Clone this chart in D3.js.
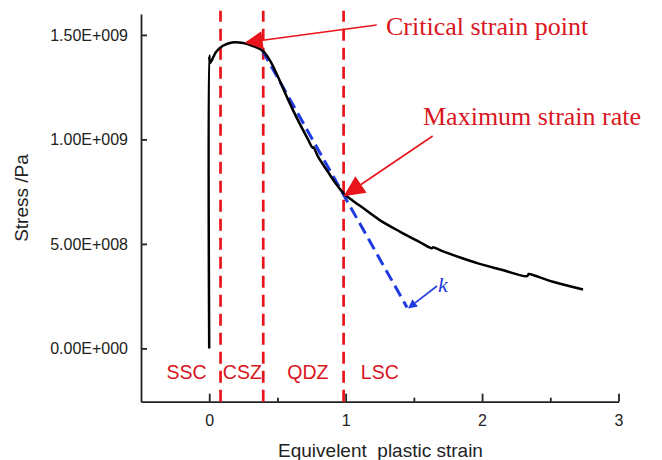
<!DOCTYPE html>
<html>
<head>
<meta charset="utf-8">
<script src="https://cdn.jsdelivr.net/npm/d3@7"></script>
<style>
  body { margin: 0; background: #fff; }
  svg { display: block; }
  .axis text { font-family: "Liberation Sans", Arial, sans-serif; font-size: 16px; fill: #222; }
  .axis path, .axis line { stroke: #222; stroke-width: 1.8; }
</style>
</head>
<body>
<div id="chart"></div>
<script>
// stress-strain curve (strain, stress in Pa)
const curveStrain = [0, 0, 0.006, 0.05, 0.10, 0.167, 0.25, 0.32, 0.39, 0.445, 0.52, 0.58, 0.65, 0.72, 0.758, 0.764, 0.80, 0.87, 0.93, 0.985, 1.05, 1.11, 1.25, 1.40, 1.54, 1.632, 1.64, 1.70, 1.84, 1.97, 2.15, 2.33, 2.342, 2.36, 2.52, 2.74];
const curveStress = [0, 1.40e9, 1.365e9, 1.418e9, 1.448e9, 1.464e9, 1.461e9, 1.447e9, 1.425e9, 1.378e9, 1.276e9, 1.188e9, 1.092e9, 1.005e9, 9.60e8, 9.62e8, 9.15e8, 8.45e8, 7.87e8, 7.42e8, 7.08e8, 6.80e8, 6.14e8, 5.58e8, 5.10e8, 4.79e8, 4.84e8, 4.68e8, 4.35e8, 4.07e8, 3.75e8, 3.46e8, 3.56e8, 3.54e8, 3.19e8, 2.82e8];

// tangent at maximum strain rate (blue dashed)
const tangentStrain = [0.39, 1.45];
const tangentStress = [1.425e9, 1.96e8];

// zone boundaries and zone names
const zoneBounds = [0.083, 0.396, 0.985];
const zoneNames = ["SSC", "CSZ", "QDZ", "LSC"];
const zoneLabelStrain = [-0.166, 0.243, 0.723, 1.25];

// annotated points
const criticalPoint = [0.26, 1.463e9];
const maxRatePoint = [0.985, 7.28e8];

const yTicks = [0, 5e8, 1e9, 1.5e9];
const yTickLabels = ["0.00E+000", "5.00E+008", "1.00E+009", "1.50E+009"];
const xTicks = [0, 1, 2, 3];
const xMinorTicks = [0.5, 1.5, 2.5];

const width = 662, height = 460;
const red = "#e8141c", textRed = "#d9161e", blue = "#1f3be0";

const x = d3.scaleLinear().domain([-0.5, 3]).range([141, 618.5]);
const y = d3.scaleLinear().domain([-2.55e8, 1.6e9]).range([401.7, 14]);

const svg = d3.select("#chart").append("svg")
  .attr("width", width)
  .attr("height", height);

// axes
svg.append("g")
  .attr("class", "axis")
  .attr("transform", "translate(" + x(-0.5) + ",0)")
  .call(d3.axisLeft(y).tickValues(yTicks)
    .tickFormat((d, i) => yTickLabels[i])
    .tickSizeInner(-6).tickSizeOuter(0).tickPadding(13));

svg.append("g")
  .attr("class", "axis")
  .attr("transform", "translate(0," + y(-2.55e8) + ")")
  .call(d3.axisBottom(x).tickValues(xTicks)
    .tickFormat(d3.format("d"))
    .tickSizeInner(-8).tickSizeOuter(0).tickPadding(13));

svg.append("g")
  .attr("class", "axis")
  .attr("transform", "translate(0," + y(-2.55e8) + ")")
  .call(d3.axisBottom(x).tickValues(xMinorTicks)
    .tickFormat("").tickSizeInner(-4).tickSizeOuter(0))
  .select(".domain").remove();

// axis titles
svg.append("text")
  .text("Equivelent  plastic strain")
  .attr("x", 380.5)
  .attr("y", 457)
  .attr("text-anchor", "middle")
  .style("white-space", "pre")
  .style("font-family", "Liberation Sans, Arial, sans-serif")
  .style("font-size", "19px")
  .style("fill", "#222");

svg.append("text")
  .text("Stress /Pa")
  .attr("transform", "translate(28,198) rotate(-90)")
  .attr("text-anchor", "middle")
  .style("font-family", "Liberation Sans, Arial, sans-serif")
  .style("font-size", "19px")
  .style("fill", "#222");

// zone boundaries
svg.selectAll(".zone")
  .data(zoneBounds)
  .enter()
  .append("line")
  .attr("class", "zone")
  .attr("x1", d => x(d))
  .attr("x2", d => x(d))
  .attr("y1", y(-2.55e8))
  .attr("y2", y(1.615e9))
  .style("stroke", red)
  .style("stroke-width", 2.7)
  .style("stroke-dasharray", "12,7");

svg.selectAll(".zone-label")
  .data(zoneNames)
  .enter()
  .append("text")
  .attr("class", "zone-label")
  .text(d => d)
  .attr("x", (d, i) => x(zoneLabelStrain[i]))
  .attr("y", 379)
  .attr("text-anchor", "middle")
  .style("font-family", "Liberation Sans, Arial, sans-serif")
  .style("font-size", "19.5px")
  .style("fill", textRed);

// tangent line
svg.append("path")
  .attr("d", d3.line()(tangentStrain.map((s, i) => [x(s), y(tangentStress[i])])))
  .style("fill", "none")
  .style("stroke", blue)
  .style("stroke-width", 3)
  .style("stroke-dasharray", "12,6");

// stress curve
const line = d3.line()
  .x(d => x(d[0]))
  .y(d => y(d[1]))
  .curve(d3.curveCatmullRom.alpha(0.5));

svg.append("path")
  .attr("d", line(curveStrain.map((s, i) => [s, curveStress[i]])))
  .style("fill", "none")
  .style("stroke", "#000")
  .style("stroke-width", 2.5)
  .style("stroke-linejoin", "round");

// arrow helper
function arrow(x0, y0, x1, y1, len, half, color, w) {
  const dx = x1 - x0, dy = y1 - y0, l = Math.hypot(dx, dy);
  const ux = dx / l, uy = dy / l;
  const bx = x1 - ux * len, by = y1 - uy * len;
  svg.append("line")
    .attr("x1", x0).attr("y1", y0)
    .attr("x2", bx).attr("y2", by)
    .style("stroke", color)
    .style("stroke-width", w);
  svg.append("polygon")
    .attr("points", [[x1, y1], [bx - uy * half, by + ux * half], [bx + uy * half, by - ux * half]].join(" "))
    .style("fill", color);
}

arrow(376.7, 25, x(criticalPoint[0]), y(criticalPoint[1]), 18, 9, red, 1.6);
arrow(432.7, 136, x(maxRatePoint[0]), y(maxRatePoint[1]), 21, 10, red, 1.6);
arrow(437, 286, x(tangentStrain[1]) + 1, y(tangentStress[1]) + 1, 9, 4.5, blue, 1.6);

// annotations
svg.append("text")
  .text("Critical strain point")
  .attr("x", 386)
  .attr("y", 35)
  .style("font-family", "Liberation Serif, Times New Roman, serif")
  .style("font-size", "26px")
  .style("fill", textRed);

svg.append("text")
  .text("Maximum strain rate")
  .attr("x", 423)
  .attr("y", 125)
  .style("font-family", "Liberation Serif, Times New Roman, serif")
  .style("font-size", "26px")
  .style("fill", textRed);

svg.append("text")
  .text("k")
  .attr("x", 438)
  .attr("y", 292)
  .style("font-family", "Liberation Serif, Times New Roman, serif")
  .style("font-style", "italic")
  .style("font-size", "22px")
  .style("fill", blue);
</script>
</body>
</html>
